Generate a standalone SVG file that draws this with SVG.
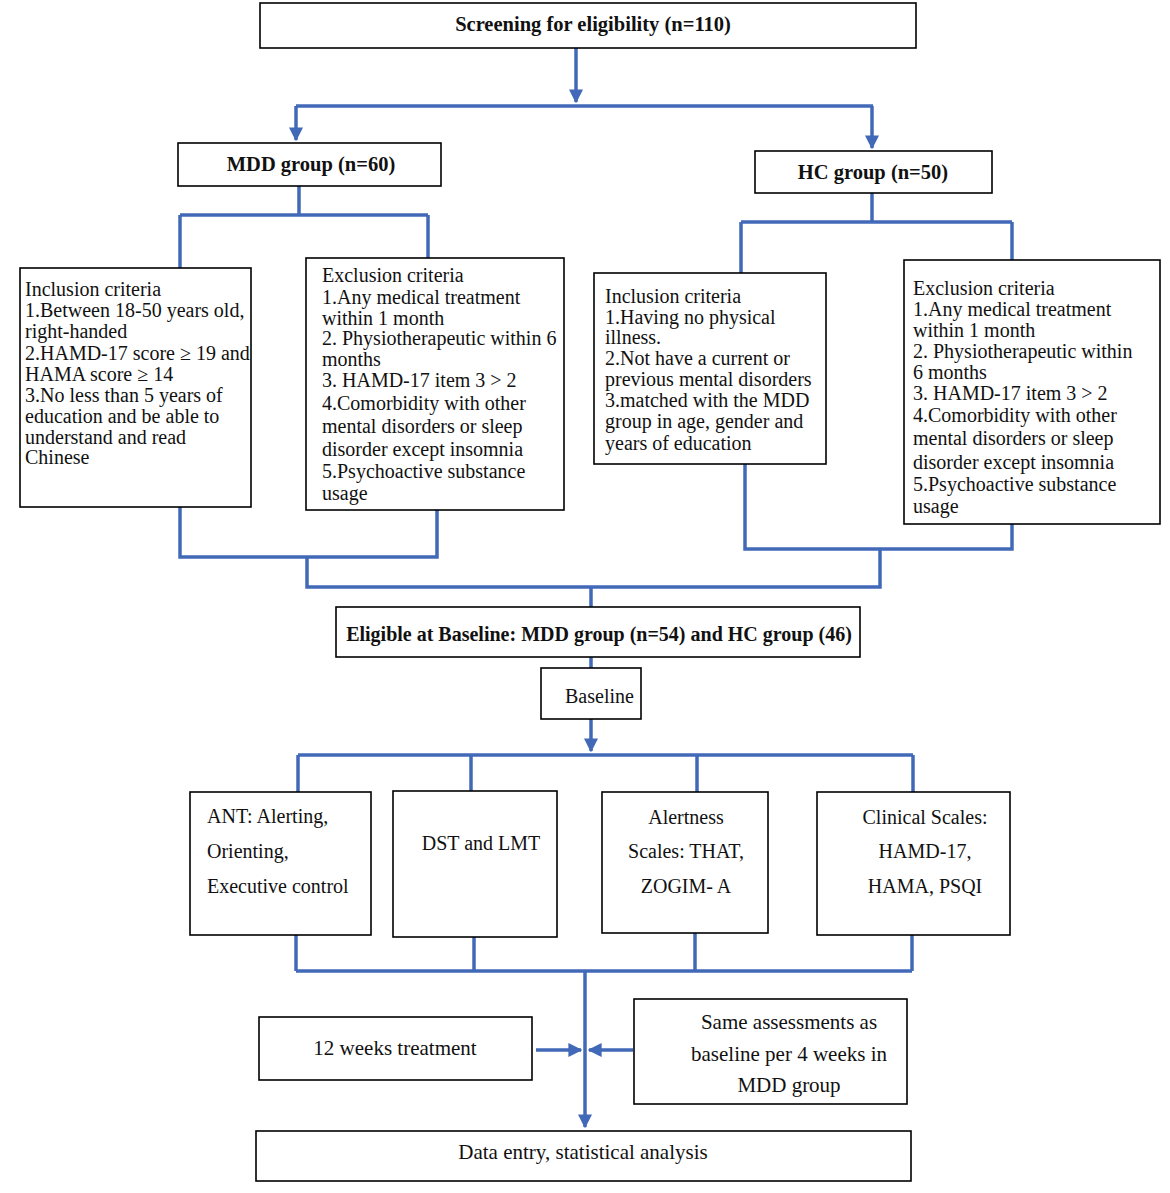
<svg xmlns="http://www.w3.org/2000/svg" width="1170" height="1193" viewBox="0 0 1170 1193">
<style>
.box{fill:#fff;stroke:#000;stroke-width:1.6}
.t{font-family:"Liberation Serif","Times New Roman",serif;font-size:20px;fill:#111}
.m{font-size:21px}
.b{font-weight:bold;font-size:20.5px}
.c{text-anchor:middle}
.ln{fill:none;stroke:#4169b8;stroke-width:3.5;stroke-linejoin:miter}
</style>
<defs>
<marker id="ah" viewBox="0 0 10 10" refX="9" refY="5" markerWidth="4" markerHeight="4" orient="auto" markerUnits="strokeWidth">
<path d="M0,0 L10,5 L0,10 z" fill="#4169b8"/>
</marker>
</defs>
<rect width="1170" height="1193" fill="#fff"/>
<g id="connectors">
<path class="ln" d="M576,48 V102" marker-end="url(#ah)"/>
<path class="ln" d="M296,106 H873"/>
<path class="ln" d="M296,106 V140" marker-end="url(#ah)"/>
<path class="ln" d="M872,106 V148" marker-end="url(#ah)"/>
<path class="ln" d="M299,186 V215 M180,215 H428 M180,215 V268 M428,215 V258"/>
<path class="ln" d="M872,193 V222 M741,222 H1012 M741,222 V273 M1012,222 V260"/>
<path class="ln" d="M180,507 V557 H437 V510 M307,557 V587 H880 V549 M745,464 V549 H1012 V524"/>
<path class="ln" d="M591,587 V607 M591,657 V668"/>
<path class="ln" d="M591,719 V751" marker-end="url(#ah)"/>
<path class="ln" d="M298,755 H913 M298,755 V792 M471,755 V791 M697,755 V792 M913,755 V792"/>
<path class="ln" d="M296,935 V971 M474,937 V971 M695,933 V971 M912,935 V971 M296,971 H912"/>
<path class="ln" d="M585,971 V1127" marker-end="url(#ah)"/>
<path class="ln" d="M536,1050 H581" marker-end="url(#ah)"/>
<path class="ln" d="M633,1050 H589" marker-end="url(#ah)"/>
</g>
<g id="screening">
<rect class="box" x="260" y="3" width="656" height="45"/>
<text class="t b c" x="593" y="31">Screening for eligibility (n=110)</text>
</g>
<g id="mdd">
<rect class="box" x="178" y="143" width="263" height="43"/>
<text class="t b c" x="311" y="171">MDD group (n=60)</text>
</g>
<g id="hc">
<rect class="box" x="755" y="151" width="237" height="42"/>
<text class="t b c" x="873" y="179">HC group (n=50)</text>
</g>
<g id="mdd-inclusion">
<rect class="box" x="20" y="268" width="231" height="239"/>
<text class="t" x="25" y="296">Inclusion criteria</text>
<text class="t" x="25" y="317">1.Between 18-50 years old,</text>
<text class="t" x="25" y="338">right-handed</text>
<text class="t" x="25" y="360">2.HAMD-17 score ≥ 19 and</text>
<text class="t" x="25" y="381">HAMA score ≥ 14</text>
<text class="t" x="25" y="402">3.No less than 5 years of</text>
<text class="t" x="25" y="423">education and be able to</text>
<text class="t" x="25" y="444">understand and read</text>
<text class="t" x="25" y="464">Chinese</text>
</g>
<g id="mdd-exclusion">
<rect class="box" x="306" y="258" width="258" height="252"/>
<text class="t" x="322" y="282">Exclusion criteria</text>
<text class="t" x="322" y="304">1.Any medical treatment</text>
<text class="t" x="322" y="325">within 1 month</text>
<text class="t" x="322" y="345">2. Physiotherapeutic within 6</text>
<text class="t" x="322" y="366">months</text>
<text class="t" x="322" y="387">3. HAMD-17 item 3 &gt; 2</text>
<text class="t" x="322" y="410">4.Comorbidity with other</text>
<text class="t" x="322" y="433">mental disorders or sleep</text>
<text class="t" x="322" y="456">disorder except insomnia</text>
<text class="t" x="322" y="478">5.Psychoactive substance</text>
<text class="t" x="322" y="500">usage</text>
</g>
<g id="hc-inclusion">
<rect class="box" x="594" y="273" width="232" height="191"/>
<text class="t" x="605" y="303">Inclusion criteria</text>
<text class="t" x="605" y="324">1.Having no physical</text>
<text class="t" x="605" y="344">illness.</text>
<text class="t" x="605" y="365">2.Not have a current or</text>
<text class="t" x="605" y="386">previous mental disorders</text>
<text class="t" x="605" y="407">3.matched with the MDD</text>
<text class="t" x="605" y="428">group in age, gender and</text>
<text class="t" x="605" y="450">years of education</text>
</g>
<g id="hc-exclusion">
<rect class="box" x="904" y="260" width="256" height="264"/>
<text class="t" x="913" y="295">Exclusion criteria</text>
<text class="t" x="913" y="316">1.Any medical treatment</text>
<text class="t" x="913" y="337">within 1 month</text>
<text class="t" x="913" y="358">2. Physiotherapeutic within</text>
<text class="t" x="913" y="379">6 months</text>
<text class="t" x="913" y="400">3. HAMD-17 item 3 &gt; 2</text>
<text class="t" x="913" y="422">4.Comorbidity with other</text>
<text class="t" x="913" y="445">mental disorders or sleep</text>
<text class="t" x="913" y="469">disorder except insomnia</text>
<text class="t" x="913" y="491">5.Psychoactive substance</text>
<text class="t" x="913" y="513">usage</text>
</g>
<g id="eligible">
<rect class="box" x="336" y="607" width="524" height="50"/>
<text class="t b c" x="599" y="641" style="font-size:20px">Eligible at Baseline: MDD group (n=54) and HC group (46)</text>
</g>
<g id="baseline">
<rect class="box" x="541" y="668" width="100" height="51"/>
<text class="t" x="565" y="703">Baseline</text>
</g>
<g id="ant">
<rect class="box" x="190" y="792" width="181" height="143"/>
<text class="t" x="207" y="823">ANT: Alerting,</text>
<text class="t" x="207" y="858">Orienting,</text>
<text class="t" x="207" y="893">Executive control</text>
</g>
<g id="dst">
<rect class="box" x="393" y="791" width="164" height="146"/>
<text class="t c" x="481" y="850">DST and LMT</text>
</g>
<g id="alertness">
<rect class="box" x="602" y="792" width="166" height="141"/>
<text class="t c" x="686" y="824">Alertness</text>
<text class="t c" x="686" y="858">Scales: THAT,</text>
<text class="t c" x="686" y="893">ZOGIM- A</text>
</g>
<g id="clinical">
<rect class="box" x="817" y="792" width="193" height="143"/>
<text class="t c" x="925" y="824">Clinical Scales:</text>
<text class="t c" x="925" y="858">HAMD-17,</text>
<text class="t c" x="925" y="893">HAMA, PSQI</text>
</g>
<g id="treatment">
<rect class="box" x="259" y="1017" width="273" height="63"/>
<text class="t m c" x="395" y="1055">12 weeks treatment</text>
</g>
<g id="same">
<rect class="box" x="634" y="999" width="273" height="105"/>
<text class="t m c" x="789" y="1029">Same assessments as</text>
<text class="t m c" x="789" y="1061">baseline per 4 weeks in</text>
<text class="t m c" x="789" y="1092">MDD group</text>
</g>
<g id="data">
<rect class="box" x="256" y="1131" width="655" height="50"/>
<text class="t m c" x="583" y="1159">Data entry, statistical analysis</text>
</g>
</svg>
